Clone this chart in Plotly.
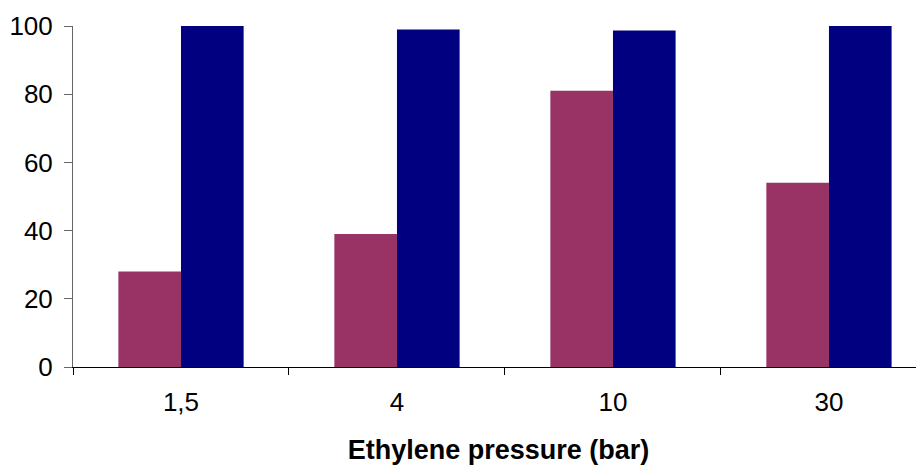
import plotly.graph_objects as go

pressures = ['1,5', '4', '10', '30']
series_a = [28, 39, 81, 54]
series_b = [100, 99, 98.7, 100]

fig = go.Figure()
fig.add_trace(go.Bar(x=pressures, y=series_a, marker=dict(color='#993366', line=dict(width=0))))
fig.add_trace(go.Bar(x=pressures, y=series_b, marker=dict(color='#000080', line=dict(width=0))))

# page body has an 8px margin, so the figure is sized to fit the 924x465 window
fig.update_layout(
    width=916,
    height=457,
    margin=dict(l=65, r=0, t=18, b=98),
    plot_bgcolor='white',
    paper_bgcolor='white',
    showlegend=False,
    barmode='group',
    bargap=0.42,
    bargroupgap=0,
    font=dict(family='Liberation Sans, Arial', size=26, color='black'),
    xaxis=dict(
        type='category',
        range=[-0.5, 3.44],
        automargin=False,
        showline=True,
        linecolor='black',
        linewidth=1,
        ticks='outside',
        tickson='boundaries',
        ticklen=7,
        tickcolor='black',
        tickfont=dict(size=26),
        ticklabelstandoff=12,
        showgrid=False,
        title=dict(text='<b>Ethylene pressure (bar)</b>', font=dict(size=27), standoff=28),
    ),
    yaxis=dict(
        range=[0, 100],
        dtick=20,
        automargin=False,
        showline=True,
        linecolor='#666666',
        linewidth=1,
        ticks='outside',
        ticklen=8,
        tickcolor='#666666',
        tickfont=dict(size=26),
        ticklabelstandoff=6,
        showgrid=False,
        zeroline=False,
    ),
)

fig.write_html('out.html')
